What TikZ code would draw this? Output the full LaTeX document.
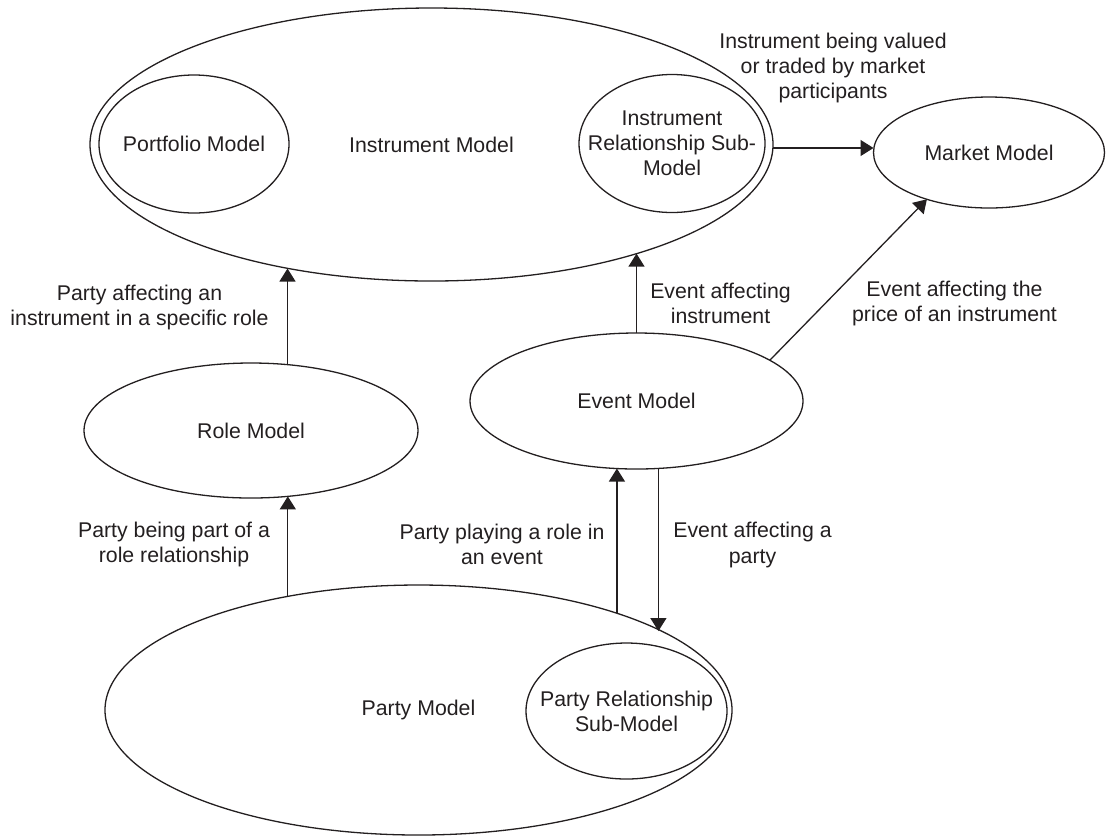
\documentclass[tikz,border=0pt]{standalone}
\usepackage{fontspec}
\setmainfont{Liberation Sans}
\usetikzlibrary{arrows.meta,shapes.geometric}
\definecolor{ink}{RGB}{35,31,32}
\begin{document}
\begin{tikzpicture}[x=0.5pt,y=-0.5pt,
  font=\fontsize{10.65}{12.6}\selectfont,
  model/.style={ellipse, draw=ink, line width=0.65pt, inner sep=0pt, outer sep=0pt},
  lbl/.style={align=center, text=ink, inner sep=0pt},
  arr/.style={draw=ink, line width=0.65pt, -{Triangle[length=6.5pt,width=8pt]}}]
\useasboundingbox (0,0) rectangle (1106,837);

% models
\node[model, minimum width=341.5pt, minimum height=136.5pt,
      label={[lbl]center:Instrument Model}] (inst) at (431.5,144.5) {};
\node[model, minimum width=95pt, minimum height=69pt,
      label={[lbl]center:Portfolio Model}] (port) at (194,144) {};
\node[model, minimum width=93pt, minimum height=69pt,
      label={[lbl]center:Instrument\\Relationship Sub-\\Model}] (irel) at (672,143.5) {};
\node[model, minimum width=115.5pt, minimum height=55.5pt,
      label={[lbl]center:Market Model}] (market) at (989,152.5) {};
\node[model, minimum width=167pt, minimum height=67.5pt,
      label={[lbl]center:Role Model}] (role) at (251,430.5) {};
\node[model, minimum width=166.5pt, minimum height=68pt,
      label={[lbl]center:Event Model}] (event) at (636.5,401) {};
\node[model, minimum width=313.5pt, minimum height=125pt,
      label={[lbl]center:Party Model}] (party) at (418.5,710) {};
\node[model, minimum width=100.5pt, minimum height=68pt,
      label={[lbl]center:Party Relationship\\Sub-Model}] (prel) at (626.5,711) {};

% connector labels
\node[lbl] (l1) at (833,68) {Instrument being valued\\or traded by market\\participants};
\node[lbl] (l2) at (954.5,303.5) {Event affecting the\\price of an instrument};
\node[lbl] (l3) at (720.5,303.5) {Event affecting\\instrument};
\node[lbl] (l4) at (139.5,307.5) {Party affecting an\\instrument in a specific role};
\node[lbl] (l5) at (174,544.5) {Party being part of a\\role relationship};
\node[lbl] (l6) at (502,544.5) {Party playing a role in\\an event};
\node[lbl] (l7) at (752.5,545) {Event affecting a\\party};

% connectors
\coordinate (im) at ([yshift=-1.75pt]inst.east);
\draw[arr] (im) -- (im -| market.west);
\draw[arr] (event.17) -- (market.217);
\draw[arr] (event.north) -- (event.north |- inst.332);
\draw[arr] (role.61) -- (role.61 |- inst.221);
\draw[arr] (party.139) -- (party.139 |- role.299);
\draw[arr] (party.26) -- (party.26 |- event.254);
\draw[arr] (event.288) -- (event.288 |- party.18);
\end{tikzpicture}
\end{document}
